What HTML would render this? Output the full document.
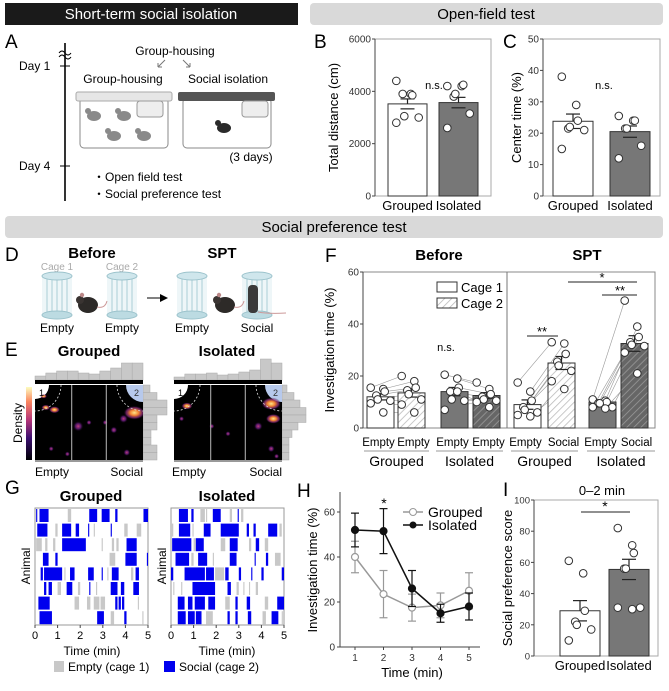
<!DOCTYPE html>
<html><head><meta charset="utf-8">
<style>
html,body{margin:0;padding:0;background:#fff;}
svg{display:block;font-family:"Liberation Sans",sans-serif;}
</style></head>
<body>
<svg id="fig" width="669" height="691" viewBox="0 0 669 691" xmlns="http://www.w3.org/2000/svg">
<defs>
<pattern id="hatchL" patternUnits="userSpaceOnUse" width="5" height="5" patternTransform="rotate(45)"><rect width="5" height="5" fill="#fff"/><line x1="0" y1="0" x2="0" y2="5" stroke="#bbb" stroke-width="1.6"/></pattern>
<pattern id="hatchD" patternUnits="userSpaceOnUse" width="5" height="5" patternTransform="rotate(45)"><rect width="5" height="5" fill="#666"/><line x1="0" y1="0" x2="0" y2="5" stroke="#999" stroke-width="1.6"/></pattern>
<linearGradient id="cbar" x1="0" y1="1" x2="0" y2="0"><stop offset="0" stop-color="#000004"/><stop offset="0.3" stop-color="#3b0f70"/><stop offset="0.55" stop-color="#b63679"/><stop offset="0.8" stop-color="#fb8761"/><stop offset="1" stop-color="#fcfdbf"/></linearGradient>
<radialGradient id="blobY"><stop offset="0" stop-color="#fde68a"/><stop offset="0.4" stop-color="#f08030"/><stop offset="0.75" stop-color="#8c2981" stop-opacity="0.7"/><stop offset="1" stop-color="#000" stop-opacity="0"/></radialGradient>
<radialGradient id="blobP"><stop offset="0" stop-color="#c2407a"/><stop offset="0.5" stop-color="#6a1c81" stop-opacity="0.8"/><stop offset="1" stop-color="#000" stop-opacity="0"/></radialGradient>
</defs>

<rect x="5" y="3" width="293" height="22" fill="#1a1a1a"/>
<text x="151" y="19" fill="#fff" font-size="15" text-anchor="middle">Short-term social isolation</text>
<rect x="310" y="3" width="353" height="22" rx="4" fill="#d9d9d9"/>
<text x="486" y="19" font-size="15" text-anchor="middle">Open-field test</text>
<rect x="5" y="216" width="658" height="22" rx="4" fill="#d9d9d9"/>
<text x="334" y="232" font-size="15" text-anchor="middle">Social preference test</text>

<g>
<text x="5" y="48" font-size="19">A</text>
<line x1="65" y1="43" x2="65" y2="201" stroke="#000" stroke-width="1.6"/>
<path d="M59,53 q3,-4 6,0 t6,0 M59,57 q3,-4 6,0 t6,0" fill="#fff" stroke="#000" stroke-width="1"/>
<line x1="60" y1="66" x2="70" y2="66" stroke="#000"/><line x1="60" y1="166" x2="70" y2="166" stroke="#000"/>
<text x="19" y="70" font-size="12">Day 1</text><text x="19" y="170" font-size="12">Day 4</text>
<text x="175" y="55" font-size="12" text-anchor="middle">Group-housing</text>
<path d="M165,60 l-7,7 m0,0 l0,-4 m0,4 l4,0" stroke="#777" fill="none"/>
<path d="M183,60 l7,7 m0,0 l0,-4 m0,4 l-4,0" stroke="#777" fill="none"/>
<text x="123" y="83" font-size="12" text-anchor="middle">Group-housing</text>
<text x="228" y="83" font-size="12" text-anchor="middle">Social isolation</text>
<rect x="80" y="98" width="88" height="50" rx="4" fill="#fff" stroke="#888"/>
<rect x="76" y="92" width="96" height="9" rx="2" fill="#e6e6e6" stroke="#aaa"/>
<rect x="137" y="101" width="26" height="16" rx="3" fill="#eee" stroke="#999"/>
<g fill="#8a8a8a"><ellipse cx="94" cy="116" rx="7" ry="5"/><ellipse cx="124" cy="116" rx="7" ry="5"/><ellipse cx="114" cy="136" rx="7" ry="5"/><ellipse cx="144" cy="136" rx="7" ry="5"/>
<circle cx="88" cy="111" r="3"/><circle cx="118" cy="111" r="3"/><circle cx="108" cy="131" r="3"/><circle cx="138" cy="131" r="3"/></g>
<rect x="183" y="98" width="88" height="50" rx="4" fill="#fff" stroke="#888"/>
<rect x="178" y="92" width="97" height="9" rx="2" fill="#555"/>
<rect x="242" y="101" width="26" height="16" rx="3" fill="#eee" stroke="#999"/>
<ellipse cx="224" cy="128" rx="7" ry="5" fill="#2a2a2a"/><circle cx="218" cy="123" r="3" fill="#2a2a2a"/>
<text x="251" y="161" font-size="12" text-anchor="middle">(3 days)</text>
<text x="93" y="181" font-size="12">・Open field test</text>
<text x="93" y="198" font-size="12">・Social preference test</text>
</g>

<g>
<text x="5" y="261" font-size="19">D</text>
<text x="92" y="258" font-size="15" font-weight="bold" text-anchor="middle">Before</text>
<text x="222" y="258" font-size="15" font-weight="bold" text-anchor="middle">SPT</text>
<text x="57" y="270" font-size="10" fill="#aaa" text-anchor="middle">Cage 1</text>
<text x="122" y="270" font-size="10" fill="#aaa" text-anchor="middle">Cage 2</text>
<g id="cages"></g>
<line x1="147" y1="298" x2="162" y2="298" stroke="#000"/><path d="M160,294 L168,298 L160,302 Z"/>
<text x="57" y="332" font-size="12" text-anchor="middle">Empty</text>
<text x="122" y="332" font-size="12" text-anchor="middle">Empty</text>
<text x="192" y="332" font-size="12" text-anchor="middle">Empty</text>
<text x="257" y="332" font-size="12" text-anchor="middle">Social</text>
</g>

<g>
<text x="5" y="356" font-size="19">E</text>
<text x="89" y="356" font-size="15" font-weight="bold" text-anchor="middle">Grouped</text>
<text x="227" y="356" font-size="15" font-weight="bold" text-anchor="middle">Isolated</text>
<rect x="26" y="387" width="6" height="73" fill="url(#cbar)"/>
<text transform="translate(22,423) rotate(-90)" font-size="12" text-anchor="middle">Density</text>
<g id="heatmaps"></g>
<text x="35" y="476" font-size="12">Empty</text>
<text x="143" y="476" font-size="12" text-anchor="end">Social</text>
<text x="172" y="476" font-size="12">Empty</text>
<text x="282" y="476" font-size="12" text-anchor="end">Social</text>
</g>

<g>
<text x="5" y="494" font-size="19">G</text>
<text x="91" y="501" font-size="15" font-weight="bold" text-anchor="middle">Grouped</text>
<text x="227" y="501" font-size="15" font-weight="bold" text-anchor="middle">Isolated</text>
<text transform="translate(30,566) rotate(-90)" font-size="12" text-anchor="middle">Animal</text>
<text transform="translate(166,566) rotate(-90)" font-size="12" text-anchor="middle">Animal</text>
<g id="raster"></g>
<text x="92" y="655" font-size="12" text-anchor="middle">Time (min)</text>
<text x="227" y="655" font-size="12" text-anchor="middle">Time (min)</text>
<rect x="54" y="661" width="10" height="11" fill="#c8c8c8"/>
<text x="68" y="671" font-size="12">Empty (cage 1)</text>
<rect x="164" y="661" width="11" height="11" fill="#0000ee"/>
<text x="179" y="671" font-size="12">Social (cage 2)</text>
</g>

<g id="charts"></g>
</svg>

<script>
const NS='http://www.w3.org/2000/svg';
const svg=document.getElementById('fig');
function mk(tag,attrs,parent){const el=document.createElementNS(NS,tag);for(const k in attrs)el.setAttribute(k,attrs[k]);(parent||svg).appendChild(el);return el;}
function txt(s,attrs,parent){const el=mk('text',attrs,parent);el.textContent=s;return el;}

const groupCats=['Grouped','Isolated'];
const bMeans=[3520,3570];
const bSem=[190,200];
const bDotsGrouped=[4400,3900,3850,3900,3050,3000,2800];
const bDotsIsolated=[4200,4200,4250,3800,3900,3150,2600];
const bTicks=[0,2000,4000,6000];

const cMeans=[23.8,20.5];
const cSem=[2.3,1.8];
const cDotsGrouped=[38,29,24,21.5,22,21,15];
const cDotsIsolated=[25.5,24,24,21.5,21.5,16,12];
const cTicks=[0,10,20,30,40,50];

const fLabels=['Empty','Empty','Empty','Empty','Empty','Social','Empty','Social'];
const fMeans=[12,13.5,14,12.5,9,25,10,32.5];
const fSem=[1.2,1.6,1.6,1.1,1.8,2.5,0.6,3];
const fDots=[
 [15.5,15,14,12.5,11,10.5,9.5,6],
 [20,18,15.5,14.5,13,11,9,6],
 [20.5,19,15.5,14,11,10.5,7,14],
 [17.5,15,13,12,11,10.5,10,8],
 [17.5,14,10.5,8,7,6,5,4.5],
 [33,32.5,28.5,25.5,24,22,18,15],
 [11,10.5,10,9.5,9.5,8,8,7.5],
 [49,39,35,33,32,31.5,29,21]];
const fTicks=[0,20,40,60];

const hTimes=[1,2,3,4,5];
const hGrouped=[40,23.5,17.5,18.5,25];
const hGroupedErr=[7,10.5,6,5.5,8];
const hIsolated=[52,51.5,26,15,18];
const hIsolatedErr=[7.5,10,8,4,6];
const hTicks=[0,20,40,60];

const iMeans=[29,55.5];
const iSem=[6.5,6.5];
const iDotsGrouped=[61,53,29,22,20,17,10];
const iDotsIsolated=[82,71,66,56,56,31,31,30];
const iTicks=[0,20,40,60,80,100];

const rasterGrouped=[
 [[0.05,0.1,1],[0.2,0.6,1],[1.45,1.6,0],[2.4,2.75,1],[2.95,3.3,1],[3.55,3.65,1],[4.8,5,1]],
 [[0.1,0.55,1],[0.9,1.0,0],[1.2,1.6,1],[1.8,1.95,1],[2.35,2.4,1],[2.6,2.65,0],[3.35,3.4,1],[3.95,4.1,0],[4.5,4.7,0]],
 [[0.05,0.3,0],[0.45,0.55,0],[0.8,0.9,0],[1.2,2.25,1],[2.95,3.0,0],[3.4,3.5,0],[3.6,3.7,0],[4.05,4.5,1]],
 [[0.35,0.6,1],[0.9,1.0,1],[3.3,3.55,0],[4.0,4.5,1],[4.95,5,1]],
 [[0.25,0.35,1],[0.4,1.2,1],[1.3,1.35,0],[1.55,1.75,1],[2.35,2.6,1],[2.95,3.0,1],[3.2,3.25,0],[3.4,3.7,1],[4.25,4.35,0],[4.45,4.6,1]],
 [[0.4,0.5,1],[0.6,0.75,1],[1.0,1.15,0],[1.4,1.65,1],[1.9,2.0,0],[2.4,2.45,1],[2.7,2.75,0],[3.35,3.65,1],[3.8,3.95,1],[4.35,4.6,1]],
 [[0.15,0.65,1],[1.75,1.95,0],[2.3,2.45,0],[2.6,2.85,0],[2.9,3.1,0],[3.55,3.65,1],[3.7,3.8,1],[3.85,3.95,1],[4.55,4.6,0]],
 [[0.2,0.75,1],[2.75,3.05,1],[3.35,3.5,0],[3.95,4.05,1],[4.75,4.8,0]]];
const rasterIsolated=[
 [[0.35,0.75,1],[0.9,1.0,1],[1.3,1.5,0],[1.55,1.6,0],[1.85,2.2,1],[2.6,2.7,0],[2.95,3.0,1],[3.1,3.2,0]],
 [[0.0,0.1,0],[0.35,0.85,1],[0.95,1.0,0],[1.45,1.75,1],[2.2,3.0,1],[3.35,3.45,1],[3.65,3.75,1],[4.3,4.7,1],[4.8,4.9,0]],
 [[0.05,0.9,1],[1.0,1.1,0],[1.1,1.45,1],[2.2,2.4,0],[2.6,2.95,1],[3.45,3.55,0],[3.75,3.9,1],[4.15,4.3,0]],
 [[0.2,0.8,1],[0.9,1.0,0],[1.2,1.6,1],[1.85,1.9,0],[2.6,2.9,1],[3.7,3.75,1],[4.2,4.3,1],[4.6,4.85,0]],
 [[0.0,0.1,1],[0.6,1.5,1],[1.55,1.9,1],[1.95,2.35,0],[2.4,2.55,1],[3.0,3.1,1],[3.55,3.6,1],[4.0,4.1,1],[4.9,5,1]],
 [[0.1,0.15,0],[0.45,0.5,0],[0.95,1.95,1],[2.5,2.65,1],[2.9,3.0,0],[3.2,3.25,0],[3.45,3.5,0],[3.75,3.85,0]],
 [[0.3,0.6,1],[0.75,0.95,1],[1.05,1.5,1],[1.65,1.95,1],[2.4,2.6,0],[2.85,2.95,1],[3.35,3.5,1],[4.15,4.3,0],[4.7,5,1]],
 [[0.3,0.65,1],[0.75,1.05,1],[1.1,1.35,1],[1.55,1.85,0],[2.5,2.6,1],[2.85,2.95,1],[3.4,3.55,1],[4.05,4.2,0],[4.45,4.75,1],[4.9,4.95,0]]];
const rasterTicks=[0,1,2,3,4,5];

const heatGrouped=[[0.92,0.37,10,1],[0.82,0.45,5,0],[0.1,0.3,4,1],[0.18,0.33,5,1],[0.4,0.55,6,0],[0.5,0.5,3,0],[0.65,0.5,3,0],[0.73,0.6,4,0],[0.15,0.85,3,0],[0.85,0.9,4,0],[0.3,0.92,3,0],[0.08,0.15,3,1]];
const heatIsolated=[[0.9,0.25,9,1],[0.92,0.45,7,1],[0.12,0.28,5,1],[0.07,0.45,3,0],[0.78,0.55,5,0],[0.5,0.65,3,0],[0.35,0.55,3,0],[0.9,0.85,4,0],[0.95,0.95,3,0]];
const histTopGrouped=[4,7,9,9,7,6,9,12,17,17];
const histTopIsolated=[3,6,6,7,5,6,8,10,21,17];
const histSideGrouped=[7,14,24,24,14,14,8,8,14,14];
const histSideIsolated=[5,12,18,24,24,16,10,7,7,7];

const charts=document.getElementById('charts');
function yAxis(g,x,yOf,ticks,fs){
  const ax=mk('line',{x1:x,y1:yOf(ticks[ticks.length-1]),x2:x,y2:yOf(ticks[0]),stroke:'#444','stroke-width':1},g);
  
  
  ticks.forEach(t=>{
    mk('line',{x1:x-3,y1:yOf(t),x2:x,y2:yOf(t),stroke:'#444'},g);
    const tl=txt(String(t),{x:x-4,y:yOf(t)+3.5,'font-size':fs||10,'text-anchor':'end',fill:'#333'},g);
    
    
  });
}
function dot(g,x,y,fill){
  const c=mk('circle',{cx:x,cy:y,r:3.8,fill:fill||'#fff',stroke:'#333','stroke-width':1},g);
  
  
  return c;
}
function errBar(g,x,yMean,yTop,w){
  mk('line',{x1:x,y1:yMean,x2:x,y2:yTop,stroke:'#222','stroke-width':1.2},g);
  mk('line',{x1:x-w,y1:yTop,x2:x+w,y2:yTop,stroke:'#222','stroke-width':1.2},g);
}
function jit(i,n,w){return ((i%3)-1)*w + ((i%2)?w*0.4:-w*0.4);}

function barPanel(opt){
  const g=mk('g',{},charts);
  
  
  txt(opt.letter,{x:opt.lx,y:opt.ly,'font-size':19},g);
  const yOf=v=>opt.y0-(v-opt.ticks[0])/(opt.ticks[opt.ticks.length-1]-opt.ticks[0])*(opt.y0-opt.yTop);
  const frame=mk('rect',{x:opt.x0,y:opt.yTop,width:opt.x1-opt.x0,height:opt.y0-opt.yTop,fill:'none',stroke:'#aaa'},g);
  
  
  yAxis(g,opt.x0,yOf,opt.ticks,opt.fs);
  const t=txt(opt.ytitle,{transform:`translate(${opt.tx},${(opt.yTop+opt.y0)/2}) rotate(-90)`,'font-size':13,'text-anchor':'middle'},g);
  
  
  opt.means.forEach((m,i)=>{
    const bx=opt.bx[i], bw=opt.bw;
    const b=mk('rect',{x:bx,y:yOf(m),width:bw,height:opt.y0-yOf(m),fill:i?'#777':'#fff',stroke:'#333'},g);
    
    
    errBar(g,bx+bw/2,yOf(m),yOf(m+opt.sem[i]),7);
    mk('line',{x1:bx+bw/2-7,y1:yOf(m-opt.sem[i]),x2:bx+bw/2+7,y2:yOf(m-opt.sem[i]),stroke:'#222','stroke-width':1.2},g);
    const dots=opt.dots[i];
    dots.forEach((v,k)=>dot(g,bx+bw/2+jit(k,dots.length,8),yOf(v)));
    const l=txt(groupCats[i],{x:bx+bw/2,y:opt.y0+14,'font-size':13,'text-anchor':'middle'},g);
    
    
  });
  return {g,yOf};
}
const B=barPanel({name:'panel-b-total-distance',letter:'B',lx:314,ly:48,x0:375,x1:491,yTop:39,y0:196,ticks:bTicks,means:bMeans,sem:bSem,dots:[bDotsGrouped,bDotsIsolated],bx:[388,439],bw:39,ytitle:'Total distance (cm)',tx:338});
txt('n.s.',{x:434,y:89,'font-size':11,'text-anchor':'middle'},B.g);
const C=barPanel({name:'panel-c-center-time',letter:'C',lx:503,ly:48,x0:543,x1:660,yTop:39,y0:196,ticks:cTicks,means:cMeans,sem:cSem,dots:[cDotsGrouped,cDotsIsolated],bx:[553,610],bw:40,ytitle:'Center time (%)',tx:521});
txt('n.s.',{x:604,y:89,'font-size':11,'text-anchor':'middle'},C.g);
const I=barPanel({name:'panel-i-social-preference',letter:'I',lx:503,ly:496,x0:534,x1:658,yTop:500,y0:656,ticks:iTicks,means:iMeans,sem:iSem,dots:[iDotsGrouped,iDotsIsolated],bx:[560,609],bw:40,ytitle:'Social preference score',tx:512,fs:9.5});
txt('0–2 min',{x:602,y:495,'font-size':13,'text-anchor':'middle'},I.g);
mk('line',{x1:581,y1:512,x2:630,y2:512,stroke:'#222'},I.g);
txt('*',{x:605,y:511,'font-size':14,'text-anchor':'middle'},I.g);

(function(){
  const g=mk('g',{},charts);
  
  
  txt('F',{x:325,y:262,'font-size':19},g);
  txt('Before',{x:439,y:260,'font-size':15,'font-weight':'bold','text-anchor':'middle'},g);
  txt('SPT',{x:587,y:260,'font-size':15,'font-weight':'bold','text-anchor':'middle'},g);
  const x0=363,x1=655,yTop=272,y0=428;
  const yOf=v=>y0-v/60*(y0-yTop);
  const fr=mk('rect',{x:x0,y:yTop,width:x1-x0,height:y0-yTop,fill:'none',stroke:'#888'},g);
  
  
  mk('line',{x1:507,y1:yTop,x2:507,y2:y0,stroke:'#777'},g);
  yAxis(g,x0,yOf,fTicks);
  const yt=txt('Investigation time (%)',{transform:`translate(334,350) rotate(-90)`,'font-size':13,'text-anchor':'middle'},g);
  
  
  const bx=[367,398,441,473,514,548,589,621], bw=27;
  const fills=['#fff','url(#hatchL)','#777','url(#hatchD)','#fff','url(#hatchL)','#777','url(#hatchD)'];
  const cx=i=>bx[i]+bw/2;
  for(let p=0;p<4;p++){
    const a=fDots[2*p],b=fDots[2*p+1];
    a.forEach((v,k)=>{ if(b[k]!==undefined) mk('line',{x1:cx(2*p)+jit(k,8,7),y1:yOf(v),x2:cx(2*p+1)+jit(k,8,7),y2:yOf(b[k]),stroke:'#999','stroke-width':0.6},g);});
  }
  fMeans.forEach((m,i)=>{
    const r=mk('rect',{x:bx[i],y:yOf(m),width:bw,height:y0-yOf(m),fill:fills[i],stroke:'#333'},g);
    
    
    errBar(g,cx(i),yOf(m),yOf(m+fSem[i]),6);
    mk('line',{x1:cx(i)-6,y1:yOf(m-fSem[i]),x2:cx(i)+6,y2:yOf(m-fSem[i]),stroke:'#222','stroke-width':1.2},g);
  });
  fDots.forEach((arr,i)=>arr.forEach((v,k)=>dot(g,cx(i)+jit(k,8,7),yOf(v))));
  fLabels.forEach((l,i)=>{
    const t=txt(l,{x:cx(i)+(i%2?1:-1)*2,y:446,'font-size':11.5,'text-anchor':'middle'},g);
    
    
  });
  const grp=[['Grouped',364,429],['Isolated',436,503],['Grouped',511,578],['Isolated',587,655]];
  grp.forEach(([n,a,b])=>{
    mk('line',{x1:a,y1:451,x2:b,y2:451,stroke:'#999'},g);
    const t=txt(n,{x:(a+b)/2,y:466,'font-size':14,'text-anchor':'middle'},g);
    
    
  });
  const l1=mk('rect',{x:437,y:282,width:20,height:10,fill:'#fff',stroke:'#333'},g);
  
  
  const l2=mk('rect',{x:437,y:298,width:20,height:10,fill:'url(#hatchL)',stroke:'#333'},g);
  
  
  txt('Cage 1',{x:461,y:292,'font-size':13},g);
  txt('Cage 2',{x:461,y:308,'font-size':13},g);
  txt('n.s.',{x:446,y:351,'font-size':11,'text-anchor':'middle'},g);
  mk('line',{x1:527,y1:336,x2:558,y2:336,stroke:'#222'},g);
  txt('**',{x:542,y:336,'font-size':13,'text-anchor':'middle'},g);
  mk('line',{x1:568,y1:282,x2:637,y2:282,stroke:'#222'},g);
  txt('*',{x:602,y:282,'font-size':13,'text-anchor':'middle'},g);
  mk('line',{x1:602,y1:295,x2:637,y2:295,stroke:'#222'},g);
  txt('**',{x:620,y:295,'font-size':13,'text-anchor':'middle'},g);
})();

(function(){
  const g=mk('g',{},charts);
  
  
  txt('H',{x:297,y:497,'font-size':19},g);
  const x0=340,y0=647,yTop=492;
  const yOf=v=>y0-v*2.25;
  const xOf=t=>355+(t-1)*28.5;
  mk('line',{x1:x0,y1:yTop,x2:x0,y2:y0,stroke:'#444'},g);
  const xa=mk('line',{x1:x0,y1:y0,x2:480,y2:y0,stroke:'#444'},g);
  
  
  hTicks.forEach(t=>{mk('line',{x1:x0-3,y1:yOf(t),x2:x0,y2:yOf(t),stroke:'#444'},g);
    const tl=txt(String(t),{x:x0-5,y:yOf(t)+3.5,'font-size':10,'text-anchor':'end',fill:'#333'},g);
    
    });
  hTimes.forEach(t=>{mk('line',{x1:xOf(t),y1:y0,x2:xOf(t),y2:y0+3,stroke:'#444'},g);
    const tl=txt(String(t),{x:xOf(t),y:y0+14,'font-size':10,'text-anchor':'middle',fill:'#333'},g);
    
    });
  const xt=txt('Time (min)',{x:412,y:677,'font-size':13,'text-anchor':'middle'},g);
  
  
  const yt=txt('Investigation time (%)',{transform:'translate(317,570) rotate(-90)','font-size':13,'text-anchor':'middle'},g);
  
  
  function series(vals,errs,col,fill,name){
    vals.forEach((v,i)=>{const x=xOf(hTimes[i]);
      mk('line',{x1:x,y1:yOf(v-errs[i]),x2:x,y2:yOf(v+errs[i]),stroke:col,'stroke-width':1.2},g);
      mk('line',{x1:x-4,y1:yOf(v+errs[i]),x2:x+4,y2:yOf(v+errs[i]),stroke:col,'stroke-width':1.2},g);
      mk('line',{x1:x-4,y1:yOf(v-errs[i]),x2:x+4,y2:yOf(v-errs[i]),stroke:col,'stroke-width':1.2},g);});
    const p=mk('polyline',{points:vals.map((v,i)=>xOf(hTimes[i])+','+yOf(v)).join(' '),fill:'none',stroke:col,'stroke-width':1.5},g);
    
    
    vals.forEach((v,i)=>{const c=mk('circle',{cx:xOf(hTimes[i]),cy:yOf(v),r:3.5,fill:fill,stroke:col,'stroke-width':1.2},g);
      
      });
  }
  series(hGrouped,hGroupedErr,'#999','#fff','grouped');
  series(hIsolated,hIsolatedErr,'#111','#111','isolated');
  txt('*',{x:384,y:508,'font-size':14,'text-anchor':'middle'},g);
  mk('line',{x1:403,y1:512,x2:423,y2:512,stroke:'#999','stroke-width':1.5},g);
  mk('circle',{cx:413,cy:512,r:3.5,fill:'#fff',stroke:'#999'},g);
  const lg=txt('Grouped',{x:428,y:517,'font-size':14},g);
  
  
  mk('line',{x1:403,y1:525,x2:423,y2:525,stroke:'#111','stroke-width':1.5},g);
  mk('circle',{cx:413,cy:525,r:3.5,fill:'#111'},g);
  const li=txt('Isolated',{x:428,y:530,'font-size':14},g);
  
  
})();

(function(){
  const g=document.getElementById('raster');
  function plot(data,x0,x1,name){
    const xOf=t=>x0+t/5*(x1-x0);
    const yTop=508,rowH=14.6;
    const fr=mk('rect',{x:x0,y:yTop,width:x1-x0,height:117,fill:'#fff',stroke:'#999'},g);
    
    
    data.forEach((row,r)=>row.forEach(([a,b,ty])=>{
      const e=mk('rect',{x:xOf(a),y:yTop+1+r*rowH,width:Math.max(1,xOf(b)-xOf(a)),height:13,fill:ty?'#0000ee':'#c8c8c8'},g);
      
      
    }));
    rasterTicks.forEach(t=>{mk('line',{x1:xOf(t),y1:625,x2:xOf(t),y2:628,stroke:'#444'},g);
      const tl=txt(String(t),{x:xOf(t),y:639,'font-size':11,'text-anchor':'middle'},g);
      
      });
  }
  plot(rasterGrouped,35,148,'grouped');
  plot(rasterIsolated,171,284,'isolated');
})();

(function(){
  const g=document.getElementById('heatmaps');
  function hm(x0,x1,blobs,top,side,name){
    const y0=385,y1=460,w=x1-x0,h=y1-y0;
    top.forEach((v,i)=>{mk('rect',{x:x0+i*w/top.length,y:380-v,width:w/top.length,height:v,fill:'#c8c8c8',stroke:'#aaa','stroke-width':0.5},g);});
    mk('rect',{x:x0,y:380,width:w,height:4,fill:'#000'},g);
    side.forEach((v,i)=>{mk('rect',{x:x1,y:y0+i*h/side.length,width:v,height:h/side.length,fill:'#c8c8c8',stroke:'#aaa','stroke-width':0.5},g);});
    const bg=mk('rect',{x:x0,y:y0,width:w,height:h,fill:'#000'},g);
    
    
    const clip='clip'+name;
    const cp=mk('clipPath',{id:clip},g);mk('rect',{x:x0,y:y0,width:w,height:h},cp);
    const bgG=mk('g',{'clip-path':`url(#${clip})`},g);
    mk('path',{d:`M${x1-17},${y0} A17,17 0 0 0 ${x1},${y0+17} L${x1},${y0} Z`,fill:'#b7c9ec'},bgG);
    mk('path',{d:`M${x0+14},${y0} A14,14 0 0 1 ${x0},${y0+14} L${x0},${y0} Z`,fill:'#fff'},bgG);
    blobs.forEach(([fx,fy,s,hot])=>{mk('ellipse',{cx:x0+fx*w,cy:y0+fy*h,rx:s*(hot?1.1:0.9),ry:s*(hot?0.7:0.9),fill:hot?'url(#blobY)':'url(#blobP)'},bgG);});
    mk('path',{d:`M${x0+26},${y0} A26,26 0 0 1 ${x0},${y0+26}`,fill:'none',stroke:'#ddd','stroke-dasharray':'2,2','stroke-width':0.8},bgG);
    mk('path',{d:`M${x1-26},${y0} A26,26 0 0 0 ${x1},${y0+26}`,fill:'none',stroke:'#ddd','stroke-dasharray':'2,2','stroke-width':0.8},bgG);
    mk('line',{x1:x0+w*0.34,y1:y0,x2:x0+w*0.34,y2:y1,stroke:'#bbb','stroke-width':1},g);
    mk('line',{x1:x0+w*0.66,y1:y0,x2:x0+w*0.66,y2:y1,stroke:'#bbb','stroke-width':1},g);
    mk('line',{x1:x0,y1:y1+1,x2:x1,y2:y1+1,stroke:'#999','stroke-width':2},g);
    txt('1',{x:x0+4,y:y0+11,'font-size':9,fill:'#000'},g);
    txt('2',{x:x1-9,y:y0+11,'font-size':9,fill:'#333'},g);
  }
  hm(35,143,heatGrouped,histTopGrouped,histSideGrouped,'grouped');
  hm(174,282,heatIsolated,histTopIsolated,histSideIsolated,'isolated');
})();

(function(){
  const g=document.getElementById('cages');
  function cage(x,name){
    const w=30,y0=273,y1=318;
    const c=mk('g',{},g);
    
    
    mk('rect',{x:x,y:y0+3,width:w,height:y1-y0-6,fill:'#eef6f8'},c);
    for(let i=1;i<6;i++) mk('line',{x1:x+i*w/6,y1:y0+3,x2:x+i*w/6,y2:y1-3,stroke:'#a9cdd6','stroke-width':1},c);
    mk('ellipse',{cx:x+w/2,cy:y1-3,rx:w/2,ry:4,fill:'#bcdbe2',stroke:'#9cc3cc'},c);
    mk('ellipse',{cx:x+w/2,cy:y0+3,rx:w/2,ry:4,fill:'#cfe6ec',stroke:'#9cc3cc'},c);
  }
  function mouse(x,y){mk('ellipse',{cx:x,cy:y,rx:10,ry:8,fill:'#2d2a28'},g);mk('circle',{cx:x-8,cy:y-5,r:4,fill:'#3a3432'},g);mk('circle',{cx:x-6,cy:y-10,r:2.2,fill:'#b88'},g);mk('path',{d:`M${x+9},${y+2} q8,2 10,-6`,fill:'none',stroke:'#c99','stroke-width':1},g);}
  cage(42,'cage-1-before');cage(107,'cage-2-before');cage(177,'cage-1-spt');cage(242,'cage-2-spt');
  mouse(88,305);mouse(225,305);
  mk('rect',{x:248,y:285,width:10,height:28,rx:4,fill:'#3a3a3a'},g);
  mk('path',{d:'M258,312 q10,2 28,1',fill:'none',stroke:'#c99','stroke-width':1},g);
})();
</script>
</body></html>
